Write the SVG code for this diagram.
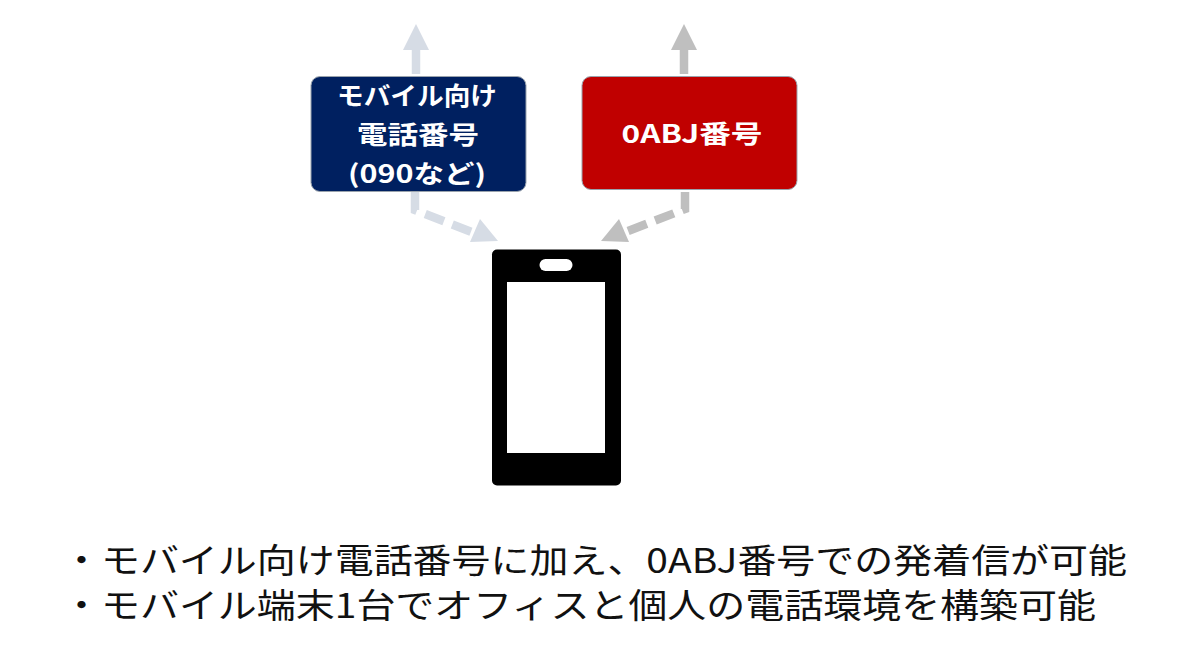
<svg xmlns="http://www.w3.org/2000/svg" width="1185" height="664" viewBox="0 0 1185 664">
<style>
text{font-family:"Noto Sans CJK JP","Noto Sans",sans-serif}
.box{stroke:#9aa3ad;stroke-width:1}
.lbl{font-size:25px;font-weight:700;fill:#fff;text-anchor:middle}
.body{font-size:34px;fill:#111}
.blue{stroke:#d6dce5;fill:none;stroke-width:8.5}
.grey{stroke:#bfbfbf;fill:none;stroke-width:8.5}
</style>
<rect width="1185" height="664" fill="#fff"/>
<g id="connectors">
<path class="blue" d="M416 74V49"/><polygon fill="#d6dce5" points="416,24 429,50 403,50"/>
<path class="grey" d="M684 74V49"/><polygon fill="#bfbfbf" points="684,24 697,50 671,50"/>
<path class="blue" stroke-dasharray="20 9" d="M415 192V210L482 236"/><polygon fill="#d6dce5" points="498,241 470,242 480,219"/>
<path class="grey" stroke-dasharray="20 9" d="M685 192V209L618 235"/><polygon fill="#bfbfbf" points="601,241 629,242 619,219"/>
</g>
<g id="node-mobile">
<rect class="box" x="311" y="76.500" width="215" height="115" rx="9" fill="#002060"/>
<text class="lbl" x="417" y="105" textLength="160" lengthAdjust="spacingAndGlyphs">モバイル向け</text>
<text class="lbl" x="418" y="144" textLength="122" lengthAdjust="spacingAndGlyphs">電話番号</text>
<text class="lbl" x="417" y="183" textLength="138" lengthAdjust="spacingAndGlyphs">(090など)</text>
</g>
<g id="node-0abj">
<rect class="box" x="582" y="76.500" width="215" height="113" rx="9" fill="#c00000"/>
<text class="lbl" x="692" y="143" textLength="141" lengthAdjust="spacingAndGlyphs">0ABJ番号</text>
</g>
<g id="node-phone">
<rect x="492" y="249.500" width="129" height="236" rx="5" fill="#000"/>
<rect x="507" y="282" width="98" height="171" fill="#fff"/>
<rect x="539.500" y="259" width="33" height="12" rx="6" fill="#fff"/>
</g>
<g id="notes">
<text class="body" x="62" y="573" textLength="1065" lengthAdjust="spacingAndGlyphs">・モバイル向け電話番号に加え、0ABJ番号での発着信が可能</text>
<text class="body" x="62" y="618" textLength="1034" lengthAdjust="spacingAndGlyphs">・モバイル端末1台でオフィスと個人の電話環境を構築可能</text>
</g>
</svg>
